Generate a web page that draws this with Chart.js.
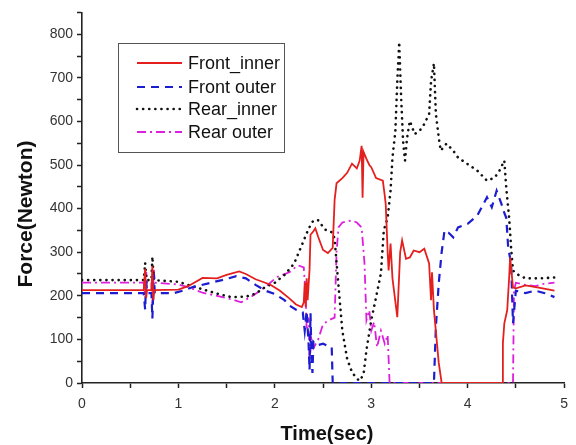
<!DOCTYPE html>
<html>
<head>
<meta charset="utf-8">
<script src="https://cdn.jsdelivr.net/npm/chart.js@4/dist/chart.umd.min.js"></script>
<style>
html,body{margin:0;padding:0;background:#fff;}
#wrap{width:576px;height:445px;position:relative;}
</style>
</head>
<body>
<div id="wrap"><canvas id="c" width="576" height="445"></canvas></div>
<script>
// ---- Data (time in s, force in N) ----
const seriesNames = ["Front_inner", "Front outer", "Rear_inner", "Rear outer"];
const xTitle = "Time(sec)";
const yTitle = "Force(Newton)";

const frontInner = [[0,213],[0.64,213],[0.655,262],[0.665,195],[0.675,213],[0.72,213],[0.73,268],[0.74,190],[0.75,213],[1.0,214],[1.1,222],[1.25,241],[1.4,240],[1.5,248],[1.63,256],[1.7,250],[1.8,238],[1.95,226],[2.05,212],[2.15,194],[2.22,180],[2.28,174],[2.3,185],[2.31,230],[2.32,175],[2.33,240],[2.34,190],[2.36,260],[2.37,340],[2.4,348],[2.42,355],[2.45,335],[2.5,305],[2.55,298],[2.6,310],[2.62,420],[2.64,458],[2.7,470],[2.75,482],[2.8,503],[2.85,492],[2.88,510],[2.9,544],[2.91,425],[2.92,530],[2.95,514],[2.98,500],[3.0,495],[3.05,470],[3.12,464],[3.14,430],[3.15,410],[3.17,300],[3.18,258],[3.2,320],[3.22,240],[3.27,151],[3.3,300],[3.32,327],[3.36,285],[3.4,288],[3.44,304],[3.5,300],[3.55,308],[3.6,274],[3.62,190],[3.63,254],[3.65,167],[3.7,46],[3.73,0],[4.36,0],[4.365,91],[4.38,137],[4.41,167],[4.43,242],[4.44,288],[4.47,219],[4.5,217],[4.6,224],[4.75,218],[4.9,212]];

const frontOuter = [[0,206],[0.64,206],[0.655,168],[0.665,240],[0.675,206],[0.72,206],[0.73,148],[0.745,250],[0.755,206],[0.95,206],[1.05,212],[1.15,220],[1.3,228],[1.45,236],[1.6,245],[1.7,240],[1.8,225],[1.9,212],[2.0,204],[2.1,190],[2.15,178],[2.22,168],[2.29,162],[2.31,120],[2.33,165],[2.35,90],[2.36,30],[2.37,160],[2.38,60],[2.39,23],[2.4,95],[2.45,87],[2.5,90],[2.55,85],[2.59,82],[2.6,0],[3.65,0],[3.67,128],[3.7,229],[3.73,300],[3.76,350],[3.8,345],[3.85,334],[3.9,357],[4.0,365],[4.1,384],[4.2,426],[4.25,403],[4.3,441],[4.35,411],[4.38,390],[4.4,379],[4.42,311],[4.45,274],[4.47,137],[4.5,212],[4.6,206],[4.7,212],[4.8,206],[4.9,197]];

const rearInner = [[0,236],[0.64,236],[0.655,275],[0.67,236],[0.72,236],[0.73,290],[0.745,236],[1.0,232],[1.1,225],[1.25,215],[1.4,205],[1.55,197],[1.7,198],[1.8,205],[1.9,220],[2.0,230],[2.1,248],[2.2,274],[2.3,327],[2.35,354],[2.4,373],[2.45,373],[2.52,352],[2.6,345],[2.62,330],[2.65,250],[2.7,120],[2.75,55],[2.8,25],[2.85,10],[2.88,5],[2.92,20],[2.95,75],[3.0,144],[3.05,197],[3.1,251],[3.13,350],[3.17,379],[3.2,441],[3.22,517],[3.25,578],[3.27,692],[3.29,782],[3.31,654],[3.33,555],[3.35,510],[3.37,560],[3.4,601],[3.45,571],[3.5,578],[3.55,594],[3.6,617],[3.62,692],[3.65,733],[3.67,617],[3.7,563],[3.72,533],[3.78,549],[3.85,533],[3.9,517],[4.0,502],[4.1,487],[4.2,464],[4.28,471],[4.33,487],[4.38,510],[4.4,448],[4.43,379],[4.45,311],[4.47,258],[4.5,251],[4.6,240],[4.75,240],[4.9,242]];

const rearOuter = [[0,230],[0.64,230],[0.655,200],[0.665,255],[0.675,230],[0.72,230],[0.73,180],[0.745,260],[0.755,230],[1.0,226],[1.1,220],[1.25,207],[1.4,200],[1.55,192],[1.65,185],[1.77,200],[1.9,220],[2.02,243],[2.15,254],[2.24,270],[2.3,265],[2.32,200],[2.33,121],[2.35,150],[2.36,50],[2.38,100],[2.4,80],[2.45,100],[2.5,135],[2.57,145],[2.62,150],[2.64,300],[2.66,357],[2.7,368],[2.8,373],[2.85,368],[2.9,357],[2.93,274],[2.95,144],[2.98,167],[3.0,120],[3.03,140],[3.06,82],[3.1,120],[3.14,90],[3.17,110],[3.19,0],[4.47,0],[4.48,212],[4.5,230],[4.6,225],[4.7,222],[4.8,228],[4.9,230]];

const xTicks = [0, 1, 2, 3, 4, 5];
const yTicks = [0, 100, 200, 300, 400, 500, 600, 700, 800];

// ---- Chart ----
const toPts = arr => arr.map(p => ({x: p[0], y: p[1]}));
const FONT = 'Arial, "Liberation Sans", sans-serif';
const styles = [
  {color:'#e3201e', width:1.8, dash:[], cap:'butt'},
  {color:'#1c1cd0', width:2.2, dash:[8,6], cap:'butt'},
  {color:'#111111', width:2.6, dash:[0.1,6], cap:'round'},
  {color:'#dd1fdd', width:1.8, dash:[9,4,2,4], cap:'butt'}
];
const datas = [frontInner, frontOuter, rearInner, rearOuter];

const decor = {
  id: 'decor',
  afterDraw(chart) {
    const ctx = chart.ctx;
    ctx.save();
    // axis titles
    ctx.fillStyle = '#111';
    ctx.font = 'bold 20px ' + FONT;
    ctx.textAlign = 'center';
    ctx.textBaseline = 'middle';
    ctx.fillText(xTitle, 327, 434);
    ctx.save();
    ctx.translate(26, 214);
    ctx.rotate(-Math.PI / 2);
    ctx.font = 'bold 21px ' + FONT;
    ctx.fillText(yTitle, 0, 0);
    ctx.restore();
    // legend
    ctx.textAlign = 'left';
    ctx.strokeStyle = '#555';
    ctx.lineWidth = 1;
    ctx.strokeRect(118.5, 43.5, 166, 109);
    const rows = [63, 87, 109, 132];
    ctx.font = '18px ' + FONT;
    for (let i = 0; i < 4; i++) {
      const s = styles[i];
      ctx.strokeStyle = s.color;
      ctx.lineWidth = s.width;
      ctx.lineCap = s.cap;
      ctx.setLineDash(s.dash);
      ctx.beginPath();
      ctx.moveTo(137, rows[i]);
      ctx.lineTo(182, rows[i]);
      ctx.stroke();
      ctx.setLineDash([]);
      ctx.fillStyle = '#111';
      ctx.fillText(seriesNames[i], 188, rows[i] + 1);
    }
    ctx.restore();
  }
};

new Chart(document.getElementById('c'), {
  type: 'line',
  data: {
    datasets: datas.map((d, i) => ({
      label: seriesNames[i],
      data: toPts(d),
      borderColor: styles[i].color,
      borderWidth: styles[i].width,
      borderDash: styles[i].dash,
      borderCapStyle: styles[i].cap,
      pointRadius: 0,
      tension: 0,
      fill: false
    }))
  },
  options: {
    responsive: false,
    animation: false,
    layout: {padding: {top: 11, right: 11, left: 0, bottom: 0}},
    plugins: {legend: {display: false}, tooltip: {enabled: false}},
    scales: {
      x: {
        type: 'linear', min: 0, max: 5,
        afterFit(s) { s.height = 62; },
        afterBuildTicks(s) {
          s.ticks = [];
          for (let v = 0; v <= 10; v++) s.ticks.push({value: v / 2});
        },
        ticks: {
          autoSkip: false, maxRotation: 0, padding: 8,
          color: '#333',
          font: {family: FONT, size: 14},
          callback: v => (xTicks.includes(v) ? String(v) : '')
        },
        grid: {drawOnChartArea: false, drawTicks: true, tickLength: 5, tickColor: '#222', tickWidth: 1.5},
        border: {color: '#222', width: 1.6}
      },
      y: {
        type: 'linear', min: 0, max: 850,
        afterFit(s) { s.width = 82; },
        afterBuildTicks(s) {
          s.ticks = [];
          for (let v = 0; v <= 850; v += 50) s.ticks.push({value: v});
        },
        ticks: {
          autoSkip: false, padding: 4,
          color: '#333',
          font: {family: FONT, size: 14},
          callback: v => (yTicks.includes(v) ? String(v) : '')
        },
        grid: {drawOnChartArea: false, drawTicks: true, tickLength: 5, tickColor: '#222', tickWidth: 1.5},
        border: {color: '#222', width: 1.6}
      }
    }
  },
  plugins: [decor]
});
</script>
</body>
</html>
